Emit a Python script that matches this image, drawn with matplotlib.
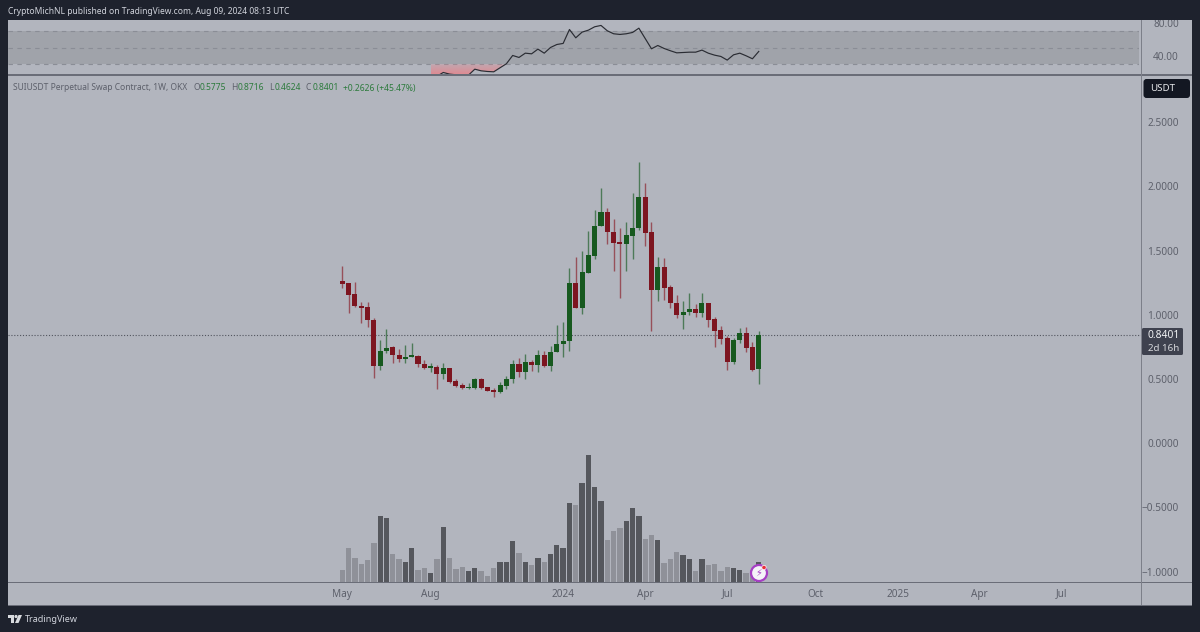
import numpy as np
import matplotlib
matplotlib.use("Agg")
import matplotlib.pyplot as plt
from matplotlib.patches import Rectangle, FancyBboxPatch, Circle, Polygon
from matplotlib.transforms import Bbox, IdentityTransform

opens = [1.264,1.246,1.160,1.072,1.059,0.960,0.602,0.716,0.747,0.690,0.656,0.672,0.680,0.620,0.589,0.597,0.542,0.586,0.482,0.454,
         0.428,0.433,0.503,0.436,0.415,0.399,0.449,0.498,0.615,0.558,0.633,0.610,0.690,0.604,0.711,0.773,0.797,1.251,1.056,1.329,
         1.461,1.692,1.801,1.645,1.565,1.555,1.617,1.674,1.915,1.643,1.196,1.373,1.217,1.095,0.999,1.022,1.043,1.017,1.095,0.968,
         0.882,0.817,0.634,0.802,0.859,0.750,0.5775]
highs = [1.383,1.250,1.256,1.100,1.100,0.973,0.802,0.893,0.760,0.734,0.765,0.783,0.684,0.649,0.625,0.607,0.628,0.588,0.501,0.469,
         0.467,0.511,0.506,0.438,0.430,0.477,0.524,0.649,0.662,0.693,0.651,0.726,0.716,0.760,0.921,0.944,1.368,1.453,1.500,1.653,
         1.817,1.991,1.835,1.747,1.674,1.721,1.952,2.188,2.024,1.723,1.448,1.445,1.233,1.152,1.108,1.170,1.085,1.170,1.095,0.986,
         0.911,0.833,0.817,0.895,0.906,0.789,0.8716]
lows = [1.212,1.017,1.059,0.939,0.908,0.508,0.573,0.706,0.628,0.633,0.628,0.670,0.597,0.576,0.558,0.425,0.501,0.472,0.441,0.420,
        0.423,0.425,0.425,0.405,0.363,0.392,0.420,0.472,0.513,0.501,0.565,0.553,0.597,0.565,0.711,0.669,0.721,1.054,1.009,1.327,
        1.438,1.690,1.555,1.344,1.131,1.339,1.433,1.658,1.539,0.877,1.108,1.118,1.056,0.978,0.887,0.999,0.981,0.981,0.908,0.752,
        0.773,0.571,0.617,0.783,0.708,0.565,0.4624]
closes = [1.243,1.155,1.069,1.056,0.957,0.602,0.719,0.742,0.690,0.656,0.672,0.680,0.617,0.586,0.599,0.542,0.586,0.475,0.449,0.433,
          0.438,0.503,0.433,0.410,0.399,0.454,0.500,0.615,0.558,0.630,0.610,0.690,0.604,0.713,0.776,0.799,1.251,1.056,1.331,1.464,
          1.695,1.801,1.648,1.560,1.555,1.622,1.677,1.915,1.640,1.196,1.373,1.212,1.092,0.999,1.025,1.046,1.017,1.095,0.963,0.877,
          0.812,0.636,0.807,0.859,0.745,0.571,0.8401]
volumes = [38,102,73,55,66,118,200,193,84,69,60,102,36,43,29,69,167,73,39,47,33,42,33,20,42,62,60,125,89,60,51,73,60,84,111,102,
           238,231,298,381,285,245,127,153,162,184,222,200,129,142,126,58,71,91,82,71,33,71,51,54,33,47,42,36,29,37,60]
volume_down = [0,0,0,0,0,0,1,1,0,0,1,1,0,0,1,0,1,0,0,0,1,1,0,0,0,1,1,1,0,1,0,1,0,1,1,1,
               1,0,1,1,1,1,0,0,0,1,1,1,0,0,1,0,0,0,1,1,0,1,0,0,0,0,1,1,0,0,1]
rsi_values = [14,15.5,20.1,18.1,17.3,16.9,16.9,24.1,22.1,21.3,20.9,25.8,30.6,40.7,38.3,43.5,42.7,48.4,43.5,50.4,54,55.3,72.2,62.1,
              69,71.4,75.5,77.1,70.6,67,66.2,67,68.6,73.8,61.3,48.8,52.8,49.2,46.4,43.9,44.3,44.7,44.7,47.2,43.5,41.1,39.5,35.1,
              41.5,43.5,40.3,36.7,45.6]
rsi_start = 14
price_ticks = [2.5,2.0,1.5,1.0,0.5,0.0,-0.5,-1.0]
price_labels = ["2.5000","2.0000","1.5000","1.0000","0.5000","0.0000","\u22120.5000","\u22121.0000"]
time_ticks = [0,14,35,48,61,75,88,101,114]
time_labels = ["May","Aug","2024","Apr","Jul","Oct","2025","Apr","Jul"]
last_price = 0.8401

W, H = 1200, 632
BG = "#1e222d"; PANEL = "#b2b5be"; TXT = "#5d606b"; RULE = "#6a6d78"
UP = "#17591f"; DOWN = "#7d1520"; UPW = "#4d7a58"; DOWNW = "#97505a"
plt.rcParams['font.family'] = ['Noto Sans', 'DejaVu Sans']
FS = 7.2
SM = 6.1

fig = plt.figure(figsize=(W/100, H/100), dpi=100, facecolor=BG)
def axpx(x0, y0, x1, y1, **k):
    return fig.add_axes([x0/W, 1-y1/H, (x1-x0)/W, (y1-y0)/H], **k)
def ftext(x, y, s, **k):
    k.setdefault('va', 'center'); k.setdefault('fontsize', FS)
    return fig.text(x/W, 1-y/H, s, **k)
def frect(x0, y0, x1, y1, **k):
    fig.add_artist(Rectangle((x0/W, 1-y1/H), (x1-x0)/W, (y1-y0)/H, transform=fig.transFigure, **k))

frect(8, 20, 1192, 605.5, facecolor=PANEL, edgecolor='none', zorder=0)

X0, X1 = 8, 1141
xlim = ((X0-342.3)/6.31, (X1-342.3)/6.31)
idx = np.arange(len(opens))

# RSI pane
ar = axpx(X0, 20, X1-2, 75, facecolor='none')
ar.set_xlim(xlim[0], xlim[1]-2/6.31); ar.set_ylim(17.03, 83.7)
ar.axhspan(30, 70, color="#a0a3aa", lw=0, zorder=1)
for lv in (30, 50, 70):
    ar.axhline(lv, color="#8a8d96", lw=0.8, dashes=(4, 4), zorder=2)
rx = np.arange(rsi_start, rsi_start+len(rsi_values))
rv = np.array(rsi_values, float)
cross = np.interp(30, rv[11:13], rx[11:13])
fx = np.concatenate([rx[:12], [cross]]); fy = np.concatenate([rv[:12], [30]])
poly = ar.fill_between(fx, fy, 30, color='none', lw=0)
grad = np.zeros((32, 2, 4)); grad[..., :3] = matplotlib.colors.to_rgb("#e8828a")
grad[..., 3] = np.linspace(0.85, 0.3, 32)[:, None]
im = ar.imshow(grad, extent=[fx[0], fx[-1], 17.03, 30], origin='lower', aspect='auto', zorder=3)
im.set_clip_path(poly.get_paths()[0], ar.transData)
ar.set_xlim(xlim[0], xlim[1]-2/6.31); ar.set_ylim(17.03, 83.7)
ar.plot(rx, rv, color="#2a2c33", lw=0.85, zorder=4)
ar.set_xticks([]); ar.yaxis.tick_right(); ar.set_yticks([40, 80], ["40.00", "80.00"])
ar.tick_params(axis='y', length=0, pad=28.8, labelsize=FS, labelcolor=TXT)
clip = Bbox([[1141, H-75], [1192, H-20]])
for t in ar.get_yticklabels():
    t.set_ha('right'); t.set_clip_on(True); t.set_clip_box(clip)
for s in ar.spines.values(): s.set_visible(False)

# Price pane
am = axpx(X0, 75, X1, 582.3, facecolor='none')
am.set_xlim(xlim); am.set_ylim(-1.0826, 2.868)
av = am.twinx()
for i, o, h, l, c in zip(idx, opens, highs, lows, closes):
    up = c >= o
    am.vlines(i, l, h, color=UPW if up else DOWNW, lw=1.0, zorder=2)
    am.bar(i, max(abs(c-o), 0.012), bottom=min(o, c), width=0.8, color=UP if up else DOWN, lw=0, zorder=3)
am.axhline(last_price, color="#52555f", lw=0.8, dashes=(1, 1.6), zorder=1)
am.yaxis.tick_right(); am.set_yticks(price_ticks, price_labels)
am.tick_params(axis='y', length=0, pad=27.4, labelsize=FS, labelcolor=TXT)
for t in am.get_yticklabels(): t.set_ha('right')
am.set_xticks(time_ticks, time_labels)
am.tick_params(axis='x', length=0, pad=4.5, labelsize=FS, labelcolor=TXT)
for t in am.get_xticklabels():
    if t.get_text() in ("2024", "2025"):
        t.set_fontweight('bold')
for s in am.spines.values(): s.set_visible(False)

# Volume overlay
av.set_ylim(0, 507.3*3); av.set_yticks([]); av.patch.set_visible(False)
av.bar(idx, volumes, width=0.84, lw=0,
       color=["#55575d" if d else "#8f9199" for d in volume_down], zorder=2)
for s in av.spines.values(): s.set_visible(False)

# Rules
frect(X0, 74.3, 1192, 75.6, facecolor=RULE, edgecolor='none', zorder=5)
frect(X0, 581.8, 1192, 583.0, facecolor=RULE, edgecolor='none', zorder=5)
frect(1140.5, 20, 1141.7, 605.5, facecolor="#7c7f89", edgecolor='none', zorder=5)
frect(X0, 604.8, 1192, 605.8, facecolor=RULE, edgecolor='none', zorder=5)

# Header and legend
ftext(7.5, 14.5, "CryptoMichNL published on TradingView.com, Aug 09, 2024 08:13 UTC", color="#d1d4dc", fontsize=SM, va='baseline')
LB = 90.5
ftext(13, LB, "SUIUSDT Perpetual Swap Contract, 1W, OKX", color=TXT, fontsize=SM, va='baseline')
G = "#2c7a3c"
for xl, l, xv, v in [(193, "O", 199.5, "0.5775"), (231, "H", 238, "0.8716"), (269, "L", 274.5, "0.4624"), (306, "C", 312.5, "0.8401")]:
    ftext(xl, LB, l, color=TXT, fontsize=SM, va='baseline')
    ftext(xv, LB, v, color=G, fontsize=SM, va='baseline')
ftext(343, LB, "+0.2626 (+45.47%)", color=G, fontsize=SM, va='baseline')

# Price tags
def rbox(x0, y0, x1, y1, fc, r=2):
    fig.add_artist(FancyBboxPatch((x0, H-y1), x1-x0, y1-y0, boxstyle=f"round,pad=0,rounding_size={r}",
                                  transform=IdentityTransform(), facecolor=fc, edgecolor='none', zorder=6))
rbox(1143.5, 79, 1190, 98, "#131722", 3)
ftext(1150, 88.5, "USDT", color="#e6e7ea", fontsize=7.0, zorder=7)
rbox(1142, 328, 1183, 355, "#3e414e", 1.5)
ftext(1148, 336, "0.8401", color="#f0f1f3", fontsize=7.4, fontweight='bold', zorder=7)
ftext(1148, 348, "2d 16h", color="#d6d7db", fontsize=7.0, fontweight='bold', zorder=7)

# Badge
def fcircle(x, y, r, **k):
    fig.add_artist(Circle((x, H-y), r, transform=IdentityTransform(), zorder=8, **k))
fcircle(759, 573, 8, facecolor="#f5f3f8", edgecolor="#a63fc4", lw=1.6)
ftext(759, 573, "\u26a1", color="#a63fc4", fontsize=7, ha='center', family=['DejaVu Sans'], zorder=9)
fcircle(764, 567.5, 2.2, facecolor="#e8303a", edgecolor='white', lw=0.5)

# Footer logo
def fpoly(pts, **k):
    fig.add_artist(Polygon([(x, H-y) for x, y in pts], closed=True, transform=IdentityTransform(), edgecolor='none', **k))
c = "#d8dade"
fpoly([(8, 615), (14, 615), (14, 623), (11, 623), (11, 618), (8, 618)], facecolor=c)
fcircle(16, 616.5, 1.6, facecolor=c, edgecolor='none')
fpoly([(18.5, 615), (22, 615), (18.5, 623), (15, 623)], facecolor=c)
ftext(25, 619, "TradingView", color="#d1d4dc", fontsize=6.5)

fig.savefig("out.png", dpi=100, facecolor=BG)
